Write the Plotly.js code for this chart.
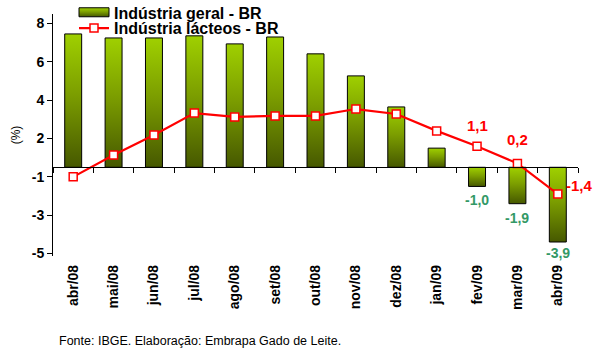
<!DOCTYPE html>
<html>
<head>
<meta charset="utf-8">
<script src="https://cdn.plot.ly/plotly-3.0.1.min.js"></script>
<style>html,body{margin:0;padding:0;background:#fff;}#chart{width:597px;height:352px;}</style>
</head>
<body>
<div id="chart"></div>
<script>
const categories = ["abr/08","mai/08","jun/08","jul/08","ago/08","set/08","out/08","nov/08","dez/08","jan/09","fev/09","mar/09","abr/09"];
const industriaGeral = [6.96, 6.75, 6.75, 6.86, 6.44, 6.80, 5.92, 4.77, 3.15, 1.0, -1.0, -1.9, -3.9];
const industriaLacteos = [-0.5, 0.64, 1.69, 2.83, 2.63, 2.68, 2.68, 3.04, 2.78, 1.9, 1.1, 0.2, -1.4];
const yTickVals = [7.5, 5.5, 3.5, 1.5, -0.5, -2.5, -4.5];
const yTickText = ["8", "6", "4", "2", "-1", "-3", "-5"];
const barLabelIdx = [10, 11, 12];
const barLabelText = ["-1,0", "-1,9", "-3,9"];
const lineLabelIdx = [10, 11, 12];
const lineLabelText = ["1,1", "0,2", "-1,4"];

const yRange = [-4.63, 8.0];
const zeroPos = (0 - yRange[0]) / (yRange[1] - yRange[0]);
const FONT = "'Liberation Sans', Arial, sans-serif";

const traces = [
  {
    type: "bar", name: "Indústria geral - BR",
    x: categories, y: industriaGeral,
    width: 0.42,
    marker: {color: "#7a9a00", line: {color: "#000", width: 1}},
    hoverinfo: "x+y"
  },
  {
    type: "scatter", mode: "lines+markers", name: "Indústria lácteos - BR",
    x: categories, y: industriaLacteos,
    line: {color: "#ff0000", width: 2.2},
    marker: {symbol: "square", size: 8, color: "#ffffff", line: {color: "#ff0000", width: 1.5}},
    hoverinfo: "x+y"
  }
];

const annotations = [];
const barShift = [-4, -4, -1];
barLabelIdx.forEach((i, k) => annotations.push({
  x: categories[i], y: industriaGeral[i], xref: "x", yref: "y",
  text: barLabelText[k], showarrow: false, yanchor: "top", yshift: barShift[k],
  font: {family: FONT, size: 14, color: "#339966", weight: "bold"}
}));
const lineShift = [[0, 21], [0, 24], [22, 9]];
lineLabelIdx.forEach((i, k) => annotations.push({
  x: categories[i], y: industriaLacteos[i], xref: "x", yref: "y",
  text: lineLabelText[k], showarrow: false,
  xshift: lineShift[k][0], yshift: lineShift[k][1],
  font: {family: FONT, size: 15, color: "#ff0000", weight: "bold"}
}));
annotations.push({
  xref: "paper", yref: "paper", x: 0.0076, y: -0.351, xanchor: "left", yanchor: "middle",
  text: "Fonte: IBGE. Elaboração: Embrapa Gado de Leite.", showarrow: false,
  font: {family: FONT, size: 12.5, color: "#000"}
});

const layout = {
  width: 597, height: 352,
  margin: {l: 53, r: 19, t: 14, b: 96, autoexpand: false},
  paper_bgcolor: "#fff", plot_bgcolor: "#fff",
  showlegend: true,
  legend: {
    x: 0.04, y: 1.077, xanchor: "left", yanchor: "top",
    bgcolor: "rgba(0,0,0,0)", borderwidth: 0,
    font: {family: FONT, size: 16, color: "#000", weight: "bold"},
    tracegroupgap: 0
  },
  xaxis: {
    type: "category", range: [-0.5, 12.5],
    anchor: "free", position: zeroPos, automargin: false,
    showline: true, linecolor: "#000", linewidth: 1,
    ticks: "outside", ticklen: 5, tickcolor: "#000", tickson: "boundaries",
    tickangle: -90, ticklabelstandoff: 91,
    tickfont: {family: FONT, size: 14, color: "#000", weight: "bold"},
    showgrid: false, zeroline: false, fixedrange: true
  },
  yaxis: {
    range: yRange, anchor: "x", automargin: false,
    showline: true, linecolor: "#000", linewidth: 1,
    ticks: "outside", ticklen: 5, tickcolor: "#000",
    tickvals: yTickVals, ticktext: yTickText,
    tickfont: {family: FONT, size: 14, color: "#000", weight: "bold"},
    showgrid: false, zeroline: false, fixedrange: true,
    title: {text: "(%)", standoff: 8, font: {family: FONT, size: 12, color: "#000"}}
  },
  annotations: annotations
};

const LEG_D = "M15,4.5H-15V-4.5H15Z";
function setStyle(el, prop, val) {
  if (el.style.getPropertyValue(prop) !== val) el.style.setProperty(prop, val);
}
function decorate(gd) {
  const NS = "http://www.w3.org/2000/svg";
  if (!document.getElementById("barGrad")) {
    const svg = gd.querySelector("svg.main-svg");
    const defs = document.createElementNS(NS, "defs");
    const grad = document.createElementNS(NS, "linearGradient");
    grad.setAttribute("id", "barGrad");
    grad.setAttribute("x1", "0"); grad.setAttribute("y1", "0");
    grad.setAttribute("x2", "0"); grad.setAttribute("y2", "1");
    [["0%", "#9fd000"], ["45%", "#7c9e00"], ["100%", "#465800"]].forEach(([o, c]) => {
      const s = document.createElementNS(NS, "stop");
      s.setAttribute("offset", o); s.setAttribute("stop-color", c);
      grad.appendChild(s);
    });
    defs.appendChild(grad);
    svg.insertBefore(defs, svg.firstChild);
  }
  gd.querySelectorAll(".barlayer .point path").forEach(p => setStyle(p, "fill", 'url("#barGrad")'));
  const items = gd.querySelectorAll(".legend .traces");
  if (items.length > 0) {
    items[0].querySelectorAll(".legendpoints path").forEach(p => {
      if (p.getAttribute("d") !== LEG_D) p.setAttribute("d", LEG_D);
      setStyle(p, "fill", 'url("#barGrad")');
      setStyle(p, "stroke", "rgb(0, 0, 0)");
      setStyle(p, "stroke-width", "1px");
    });
  }
  if (items.length > 1) {
    const it = items[1];
    const t = it.getAttribute("transform") || "";
    const m = /translate\(([-\d.]+),\s*([-\d.]+)\)/.exec(t);
    if (m && it.dataset.myY !== m[2]) {
      const ny = String(parseFloat(m[2]) - 8);
      it.dataset.myY = ny;
      it.setAttribute("transform", `translate(${m[1]},${ny})`);
    }
  }
}

Plotly.newPlot("chart", traces, layout, {displayModeBar: false, staticPlot: true}).then(gd => {
  decorate(gd);
  const obs = new MutationObserver(() => decorate(gd));
  obs.observe(gd, {childList: true, subtree: true, attributes: true, attributeFilter: ["transform", "d", "style"]});
});
</script>
</body>
</html>
